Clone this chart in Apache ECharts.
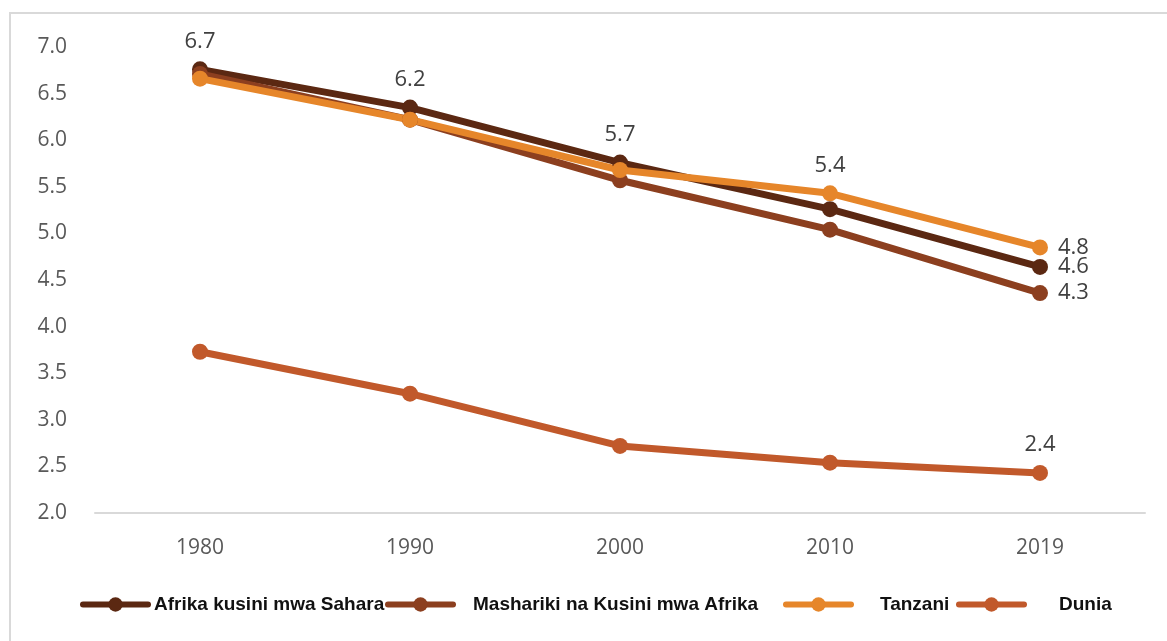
<!DOCTYPE html>
<html>
<head>
<meta charset="utf-8">
<script src="https://cdn.jsdelivr.net/npm/echarts@6/dist/echarts.min.js"></script>
<style>
  html, body { margin: 0; padding: 0; background: #fff; }
  #chart { width: 1167px; height: 641px; }
</style>
</head>
<body>
<div id="chart"></div>
<script>
var years = ['1980', '1990', '2000', '2010', '2019'];
var yTicks = [2.0, 7.0, 0.5]; // min, max, step

var seriesNames = ['Afrika kusini mwa Sahara', 'Mashariki na Kusini mwa Afrika', 'Tanzani', 'Dunia'];
var seriesColors = ['#5b2812', '#8c3f1f', '#e6862a', '#c1592b'];

var afrika = [6.76, 6.35, 5.76, 5.26, 4.64];
var mashariki = [6.71, 6.22, 5.57, 5.04, 4.36];
var tanzania = [6.66, 6.22, 5.68, 5.43, 4.85];
var dunia = [3.73, 3.28, 2.72, 2.54, 2.43];

// data labels as shown on the picture (null = no label)
var afrikaLabels = ['6.7', '6.2', '5.7', null, '4.6'];
var masharikiLabels = [null, null, null, null, '4.3'];
var tanzaniaLabels = [null, null, null, '5.4', '4.8'];
var duniaLabels = [null, null, null, null, '2.4'];

// legend item x positions (legend is spaced unevenly in the original)
var legendLeft = [75, 380, 778, 951];
var legendGapToText = [6, 20, 29, 35];

var labelFont = { fontFamily: 'Open Sans', fontSize: 22, color: '#404040' };

function buildData(values, labels, lastRight) {
    return values.map(function (v, i) {
        var item = { value: v };
        if (labels[i] != null) {
            var pos = (lastRight && i === values.length - 1) ? 'right' : 'top';
            item.label = Object.assign({
                show: true,
                position: pos,
                distance: pos === 'right' ? 10 : 9,
                formatter: labels[i]
            }, labelFont);
        }
        return item;
    });
}

function makeSeries(idx, values, labels, lastRight) {
    var color = seriesColors[idx];
    return {
        name: seriesNames[idx],
        type: 'line',
        data: buildData(values, labels, lastRight),
        symbol: 'circle',
        symbolSize: 16,
        lineStyle: { color: color, width: 7 },
        itemStyle: { color: color },
        label: { show: false },
        emphasis: { disabled: true },
        z: 2
    };
}

var legends = seriesNames.map(function (name, i) {
    return {
        left: legendLeft[i],
        top: 590,
        itemWidth: 65,
        itemHeight: 18,
        itemGap: 0,
        selectedMode: false,
        lineStyle: { width: 6, cap: 'round' },
        textStyle: {
            fontFamily: 'Liberation Sans', fontWeight: 'bold', fontSize: 19, color: '#111',
            padding: [0, 0, 0, legendGapToText[i] - 5]
        },
        data: [name]
    };
});

var chart = echarts.init(document.getElementById('chart'));
chart.setOption({
    animation: false,
    graphic: [{
        type: 'rect',
        shape: { x: 10, y: 13, width: 1170, height: 640 },
        style: { fill: 'none', stroke: '#d9d9d9', lineWidth: 2 },
        silent: true
    }],
    grid: { left: 95, right: 22, top: 47, bottom: 128 },
    legend: legends,
    xAxis: {
        type: 'category',
        data: years,
        boundaryGap: true,
        axisLine: { lineStyle: { color: '#d9d9d9', width: 2 } },
        axisTick: { show: false },
        axisLabel: { fontFamily: 'Open Sans', fontSize: 21, color: '#595959', margin: 25 }
    },
    yAxis: {
        type: 'value',
        min: yTicks[0],
        max: yTicks[1],
        interval: yTicks[2],
        axisLine: { show: false },
        axisTick: { show: false },
        splitLine: { show: false },
        axisLabel: {
            fontFamily: 'Open Sans', fontSize: 21, color: '#595959', margin: 28,
            formatter: function (v) { return v.toFixed(1); }
        }
    },
    series: [
        makeSeries(0, afrika, afrikaLabels, true),
        makeSeries(1, mashariki, masharikiLabels, true),
        makeSeries(2, tanzania, tanzaniaLabels, true),
        makeSeries(3, dunia, duniaLabels, false)
    ]
});
</script>
</body>
</html>
